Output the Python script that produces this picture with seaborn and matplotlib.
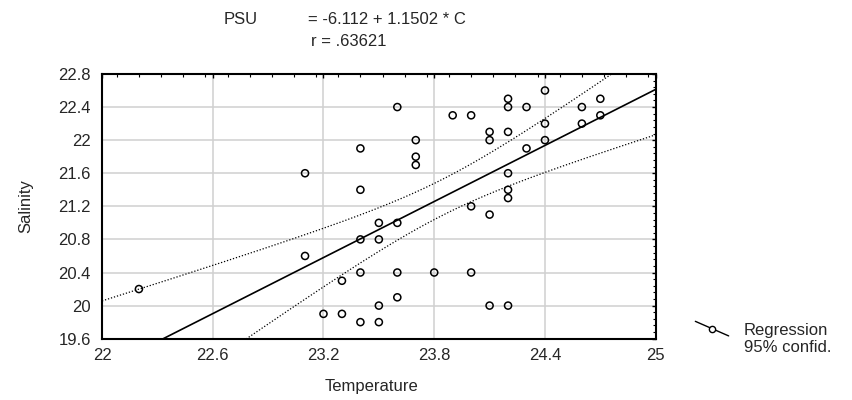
import numpy as np
import pandas as pd
import seaborn as sns
import matplotlib
matplotlib.use('Agg')
import matplotlib.pyplot as plt
from matplotlib.lines import Line2D
from matplotlib.legend_handler import HandlerBase
from matplotlib.ticker import MultipleLocator, FixedLocator

# Data
temperature = [22.2, 23.1, 23.1, 23.2, 23.3, 23.3, 23.4, 23.4, 23.4, 23.4, 23.4,
               23.5, 23.5, 23.5, 23.5, 23.6, 23.6, 23.6, 23.6, 23.7, 23.7, 23.7,
               23.8, 23.9, 24.0, 24.0, 24.0, 24.1, 24.1, 24.1, 24.1,
               24.2, 24.2, 24.2, 24.2, 24.2, 24.2, 24.2, 24.3, 24.3,
               24.4, 24.4, 24.4, 24.6, 24.6, 24.7, 24.7]
salinity = [20.2, 21.6, 20.6, 19.9, 19.9, 20.3, 21.9, 21.4, 20.8, 20.4, 19.8,
            21.0, 20.8, 20.0, 19.8, 22.4, 21.0, 20.4, 20.1, 22.0, 21.8, 21.7,
            20.4, 22.3, 22.3, 21.2, 20.4, 22.1, 22.0, 21.1, 20.0,
            22.5, 22.4, 22.1, 21.6, 21.4, 21.3, 20.0, 22.4, 21.9,
            22.6, 22.2, 22.0, 22.4, 22.2, 22.5, 22.3]

x_ticks = [22, 22.6, 23.2, 23.8, 24.4, 25]
y_ticks = [19.6, 20, 20.4, 20.8, 21.2, 21.6, 22, 22.4, 22.8]
equation_text = '= -6.112 + 1.1502 * C'
r_text = 'r = .63621'
t_crit = 2.014  # t(0.975, 45 df)

df = pd.DataFrame({'Temperature': temperature, 'Salinity': salinity})

# least squares fit and 95% confidence band for the mean
x = df['Temperature'].to_numpy()
y = df['Salinity'].to_numpy()
n = len(x)
slope, intercept = np.polyfit(x, y, 1)
resid = y - (intercept + slope * x)
s = np.sqrt(np.sum(resid ** 2) / (n - 2))
sxx = np.sum((x - x.mean()) ** 2)
xs = np.linspace(22, 25, 200)
fit = intercept + slope * xs
half = t_crit * s * np.sqrt(1 / n + (xs - x.mean()) ** 2 / sxx)
band = pd.DataFrame({'x': xs, 'fit': fit, 'lo': fit - half, 'hi': fit + half})

sns.set_style('white')
plt.rcParams['font.family'] = ['Liberation Sans', 'DejaVu Sans']
plt.rcParams['font.size'] = 12

fig = plt.figure(figsize=(8.53, 4.0), dpi=100)
ax = fig.add_axes([0.1196, 0.1533, 0.6491, 0.6618])

sns.lineplot(data=band, x='x', y='fit', color='black', lw=1.2, ax=ax, zorder=3)
sns.lineplot(data=band, x='x', y='lo', color='black', lw=0.9, ls=(0, (1, 1.5)), ax=ax, zorder=3)
sns.lineplot(data=band, x='x', y='hi', color='black', lw=0.9, ls=(0, (1, 1.5)), ax=ax, zorder=3)
sns.scatterplot(data=df, x='Temperature', y='Salinity', marker='o', s=26,
                facecolor='none', edgecolor='black', linewidth=1.1, ax=ax, zorder=4)

ax.set_xlim(22, 25)
ax.set_ylim(19.6, 22.8)
ax.xaxis.set_major_locator(FixedLocator(x_ticks))
ax.yaxis.set_major_locator(FixedLocator(y_ticks))
ax.set_xticklabels(['{:g}'.format(v) for v in x_ticks])
ax.set_yticklabels(['{:g}'.format(v) for v in y_ticks])
ax.xaxis.set_minor_locator(MultipleLocator(0.12))
ax.yaxis.set_minor_locator(MultipleLocator(0.08))
ax.tick_params(which='both', direction='in', top=True, right=True, color='black')
ax.tick_params(which='major', length=3, width=1)
ax.tick_params(which='minor', length=2.5, width=0.8)
ax.tick_params(axis='y', which='major', pad=8, labelsize=12)
ax.tick_params(axis='x', which='major', pad=7, labelsize=12)
ax.grid(True, which='major', color='#d0d0d0', lw=1.1)
ax.set_axisbelow(True)
for sp in ax.spines.values():
    sp.set_color('black')
    sp.set_linewidth(1.5)

ax.set_xlabel('Temperature', fontsize=12)
ax.set_ylabel('Salinity', fontsize=12)
ax.xaxis.set_label_coords(0.4876, -0.152)
ax.yaxis.set_label_coords(-0.1245, 0.5)

fig.text(240.5 / 853, 1 - 19 / 400, 'PSU', ha='center', va='center', fontsize=12)
fig.text(386.5 / 853, 1 - 19 / 400, equation_text, ha='center', va='center', fontsize=12)
fig.text(348.5 / 853, 1 - 42 / 400, r_text, ha='center', va='center', fontsize=12)


class SlantHandler(HandlerBase):
    def create_artists(self, legend, orig_handle, xdescent, ydescent,
                       width, height, fontsize, trans):
        x0 = -xdescent
        y0 = -ydescent
        line = Line2D([x0, x0 + width], [y0 + height * 1.15, y0 - height * 0.1],
                      color='black', lw=1)
        dot = Line2D([x0 + width / 2], [y0 + height * 0.52], marker='o', ms=4.5,
                     mfc='white', mec='black', mew=1, ls='none')
        line.set_transform(trans)
        dot.set_transform(trans)
        return [line, dot]


reg_handle = Line2D([], [], color='black')
ci_handle = Line2D([], [], color='none')
fig.legend([reg_handle, ci_handle], ['Regression', '95% confid.'],
           handler_map={reg_handle: SlantHandler()},
           loc='center left', bbox_to_anchor=(687 / 853, 1 - 339 / 400),
           frameon=False, fontsize=12, handlelength=2.0, handletextpad=0.9,
           labelspacing=0.15, borderpad=0.0)

fig.savefig('out.png', dpi=100)
